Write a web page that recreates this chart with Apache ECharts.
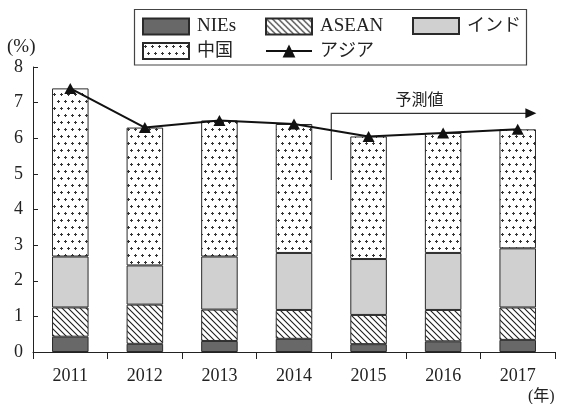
<!DOCTYPE html>
<html>
<head>
<meta charset="utf-8">
<script src="https://cdn.jsdelivr.net/npm/echarts@6/dist/echarts.min.js"></script>
<style>
  html, body { margin: 0; padding: 0; background: #fff; }
  #chart { width: 565px; height: 404px; }
</style>
</head>
<body>
<div id="chart"></div>
<script>
// Contribution to Asian real GDP growth, by region (%)
const years = ['2011', '2012', '2013', '2014', '2015', '2016', '2017'];
const nies  = [0.43, 0.23, 0.31, 0.37, 0.22, 0.30, 0.34];
const asean = [0.82, 1.10, 0.88, 0.81, 0.82, 0.88, 0.91];
const india = [1.43, 1.10, 1.49, 1.60, 1.57, 1.60, 1.66];
const china = [4.72, 3.87, 3.82, 3.62, 3.44, 3.37, 3.34];
const asia  = [7.40, 6.30, 6.50, 6.40, 6.05, 6.15, 6.25];

const seriesNames = ['NIEs', 'ASEAN', 'インド', '中国', 'アジア'];
const forecastStart = '2015';
const forecastLabel = '予測値';
const yUnit = '(%)';
const xUnit = '(年)';

const FONT = "'Liberation Serif', 'Noto Sans CJK JP', serif";

// Diagonal hatching "\\\\" on white
function hatchPattern() {
  const s = 6;
  const c = document.createElement('canvas');
  c.width = s; c.height = s;
  const g = c.getContext('2d');
  g.fillStyle = '#fff';
  g.fillRect(0, 0, s, s);
  g.strokeStyle = '#1e1e1e';
  g.lineWidth = 1.1;
  g.beginPath();
  g.moveTo(-1, -1); g.lineTo(s + 1, s + 1);
  g.moveTo(s - 1, -1); g.lineTo(s + 1, 1);
  g.moveTo(-1, s - 1); g.lineTo(1, s + 1);
  g.stroke();
  return c;
}

// Staggered small crosses on white
function dotPattern() {
  const w = 7, h = 14;
  const c = document.createElement('canvas');
  c.width = w; c.height = h;
  const g = c.getContext('2d');
  g.fillStyle = '#fff';
  g.fillRect(0, 0, w, h);
  g.fillStyle = '#333';
  const plus = (x, y) => { g.fillRect(x - 1, y, 3, 1); g.fillRect(x, y - 1, 1, 3); };
  plus(2, 3);
  plus(5, 10);
  return c;
}

const chart = echarts.init(document.getElementById('chart'), null, { renderer: 'canvas' });

const barStyle = (color) => ({ color: color, borderColor: '#2a2a2a', borderWidth: 1 });

function legendAt(name, left, top, icon, fontSize) {
  const item = icon ? { name: name, icon: icon } : { name: name };
  return {
    left: left, top: top, padding: 0, itemGap: 0,
    itemWidth: 46, itemHeight: 16,
    selectedMode: false,
    data: [item],
    textStyle: { fontFamily: FONT, fontSize: fontSize, color: '#222', lineHeight: 16, padding: [0, 0, 0, 3] }
  };
}

const option = {
  animation: false,
  backgroundColor: '#fff',
  textStyle: { fontFamily: FONT },
  grid: { left: 33, right: 10, top: 67, bottom: 52 },
  legend: [
    legendAt(seriesNames[0], 142, 17, 'rect', 19),
    legendAt(seriesNames[1], 265, 17, 'rect', 19),
    legendAt(seriesNames[2], 412, 17, 'rect', 18),
    legendAt(seriesNames[3], 142, 42, 'rect', 18),
    legendAt(seriesNames[4], 265, 42, null, 18)
  ],
  xAxis: {
    type: 'category',
    data: years,
    boundaryGap: true,
    axisLine: { lineStyle: { color: '#222', width: 1 } },
    axisTick: { show: true, length: 7, inside: false, lineStyle: { color: '#222' } },
    axisLabel: { fontFamily: FONT, fontSize: 18, color: '#222', margin: 15 },
    splitLine: { show: false }
  },
  yAxis: {
    type: 'value',
    min: 0, max: 8, interval: 1,
    axisLine: { show: true, lineStyle: { color: '#222', width: 1 } },
    axisTick: { show: true, inside: true, length: 5, lineStyle: { color: '#222' } },
    axisLabel: { fontFamily: FONT, fontSize: 18, color: '#222', margin: 10 },
    splitLine: { show: false }
  },
  series: [
    { name: seriesNames[0], type: 'bar', stack: 'g', barWidth: '49%', data: nies,
      itemStyle: barStyle('#686868') },
    { name: seriesNames[1], type: 'bar', stack: 'g', data: asean,
      itemStyle: barStyle({ image: hatchPattern(), repeat: 'repeat' }) },
    { name: seriesNames[2], type: 'bar', stack: 'g', data: india,
      itemStyle: barStyle('#d0d0d0') },
    { name: seriesNames[3], type: 'bar', stack: 'g', data: china,
      itemStyle: barStyle({ image: dotPattern(), repeat: 'repeat' }) },
    { name: seriesNames[4], type: 'line', data: asia, z: 5,
      symbol: 'triangle', symbolSize: [12, 11],
      lineStyle: { color: '#111', width: 2 },
      itemStyle: { color: '#111' } }
  ]
};

chart.setOption(option);

// Forecast bracket and axis unit labels, placed from the axes
const toPx = (cat, val) => chart.convertToPixel({ gridIndex: 0 }, [cat, val]);
const iStart = years.indexOf(forecastStart);
const pPrev = toPx(years[iStart - 1], 6.7);
const pStart = toPx(years[iStart], 6.7);
const pLast = toPx(years[years.length - 1], 6.7);
const pBefore = toPx(years[years.length - 2], 6.7);
const x0 = (pPrev[0] + pStart[0]) / 2;
const yTop = pStart[1];
const yBot = toPx(years[iStart], 4.83)[1];
const tipX = pLast[0] + 0.25 * (pLast[0] - pBefore[0]);

chart.setOption({
  graphic: [
    { type: 'rect', shape: { x: 134.5, y: 9.5, width: 392, height: 55.5 },
      style: { fill: null, stroke: '#444', lineWidth: 1.2 }, silent: true },
    { type: 'polyline', shape: { points: [[x0, yBot], [x0, yTop], [tipX - 9, yTop]] },
      style: { stroke: '#333', lineWidth: 1.2, fill: null }, silent: true },
    { type: 'polygon', shape: { points: [[tipX, yTop], [tipX - 11, yTop - 5], [tipX - 11, yTop + 5]] },
      style: { fill: '#111' }, silent: true },
    { type: 'text', x: x0 + 0.43 * (tipX - x0), y: yTop - 14,
      style: { text: forecastLabel, fontSize: 16, fontFamily: 'Noto Sans CJK JP', fill: '#222', align: 'center', verticalAlign: 'middle' }, silent: true },
    { type: 'text', x: 7, y: 47.5,
      style: { text: yUnit, fontSize: 19, fontFamily: FONT, fill: '#222', align: 'left', verticalAlign: 'middle' }, silent: true },
    { type: 'text', x: 528, y: 397,
      style: { text: xUnit, fontSize: 16, fontFamily: FONT, fill: '#222', align: 'left', verticalAlign: 'middle' }, silent: true }
  ]
});
</script>
</body>
</html>
